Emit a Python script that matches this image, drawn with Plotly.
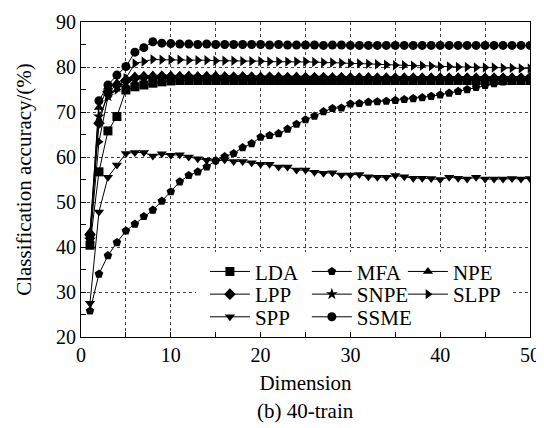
import plotly.graph_objects as go

dims = list(range(1, 51))

LDA = [40.4, 56.7, 65.8, 69.0, 74.9, 75.6, 76.0, 76.4, 76.7, 76.9,
       77.0, 77.0, 77.0, 77.0, 77.0, 77.0, 77.0, 77.0, 77.0, 77.0,
       77.0, 77.0, 77.0, 77.0, 77.0, 77.0, 77.0, 77.0, 77.0, 77.0,
       77.0, 77.0, 77.0, 77.0, 77.0, 77.0, 77.0, 77.0, 77.0, 77.0,
       77.0, 77.0, 77.0, 77.0, 77.0, 77.0, 77.0, 77.0, 77.0, 77.0]
MFA = [25.8, 34.0, 38.1, 41.0, 43.6, 45.1, 46.8, 48.2, 50.2, 52.3,
       54.5, 55.9, 56.7, 57.8, 59.2, 60.1, 60.8, 62.1, 63.0, 64.4,
       64.8, 65.2, 66.2, 67.3, 68.3, 69.1, 70.1, 70.8, 70.9, 71.8,
       71.9, 72.2, 72.3, 72.4, 72.6, 72.8, 73.0, 73.2, 73.5, 73.8,
       74.2, 74.6, 75.0, 75.5, 75.9, 76.3, 76.7, 77.1, 77.4, 77.7]
NPE = [43.4, 71.0, 75.5, 76.5, 77.5, 78.0, 78.1, 78.2, 78.2, 78.2,
       78.1, 78.2, 78.1, 78.1, 78.2, 78.1, 78.0, 78.1, 78.0, 78.0,
       78.0, 78.0, 77.9, 78.0, 77.9, 77.9, 77.9, 77.9, 77.9, 77.9,
       77.8, 77.9, 77.8, 77.8, 77.8, 77.8, 77.8, 77.8, 77.8, 77.8,
       77.8, 77.8, 77.8, 77.8, 77.8, 77.8, 77.8, 77.8, 77.8, 77.8]
LPP = [42.7, 67.5, 74.5, 76.0, 77.0, 77.6, 77.8, 77.8, 77.9, 77.8,
       77.8, 77.8, 77.7, 77.8, 77.7, 77.7, 77.7, 77.7, 77.7, 77.6,
       77.7, 77.6, 77.6, 77.6, 77.6, 77.6, 77.6, 77.5, 77.6, 77.5,
       77.5, 77.5, 77.5, 77.5, 77.5, 77.5, 77.5, 77.5, 77.5, 77.5,
       77.5, 77.5, 77.5, 77.5, 77.5, 77.5, 77.5, 77.5, 77.5, 77.6]
SNPE = [41.6, 69.0, 73.5, 75.5, 76.5, 77.2, 77.4, 77.5, 77.5, 77.4,
        77.4, 77.4, 77.4, 77.3, 77.3, 77.3, 77.3, 77.3, 77.2, 77.2,
        77.2, 77.2, 77.2, 77.2, 77.2, 77.1, 77.1, 77.1, 77.1, 77.1,
        77.1, 77.1, 77.1, 77.1, 77.1, 77.1, 77.1, 77.1, 77.1, 77.1,
        77.1, 77.1, 77.1, 77.1, 77.1, 77.1, 77.1, 77.1, 77.1, 77.2]
SLPP = [41.0, 63.4, 73.4, 75.0, 77.5, 80.8, 81.2, 81.7, 81.6, 81.6,
        81.6, 81.5, 81.5, 81.5, 81.4, 81.4, 81.4, 81.3, 81.3, 81.3,
        81.2, 81.2, 81.2, 81.2, 81.2, 81.1, 81.0, 81.0, 80.9, 80.8,
        80.8, 80.7, 80.6, 80.5, 80.4, 80.4, 80.3, 80.3, 80.2, 80.1,
        80.1, 80.0, 80.0, 79.9, 79.9, 79.9, 79.8, 79.8, 79.7, 79.7]
SPP = [27.5, 47.8, 55.5, 58.2, 60.8, 61.0, 61.0, 60.2, 60.7, 60.4,
       60.5, 60.0, 59.6, 59.3, 59.0, 59.4, 59.0, 59.0, 58.7, 58.4,
       58.4, 57.8, 57.8, 57.1, 57.1, 56.6, 56.4, 56.5, 56.0, 56.0,
       56.1, 55.6, 55.5, 55.5, 55.9, 55.6, 55.3, 55.3, 55.2, 55.0,
       55.5, 55.3, 55.1, 55.5, 55.1, 55.1, 55.1, 55.2, 55.1, 55.2]
SSME = [42.0, 72.5, 76.0, 78.2, 80.1, 83.3, 84.3, 85.6, 85.3, 85.2,
        85.1, 85.1, 85.0, 85.1, 85.0, 85.0, 85.0, 85.0, 85.0, 85.0,
        84.9, 85.0, 84.9, 84.9, 84.9, 84.9, 84.8, 84.9, 84.9, 84.8,
        84.8, 84.8, 84.8, 84.8, 84.8, 84.8, 84.8, 84.8, 84.8, 84.8,
        84.8, 84.8, 84.8, 84.8, 84.8, 84.8, 84.8, 84.8, 84.8, 84.8]

# legend grid: 3 columns x 3 rows (row-major order as in the figure)
LEG_COL_X = [0.276, 0.503, 0.717]
LEG_ROW_Y = [0.207, 0.135, 0.063]

# (name, values, marker symbol, column, row)
series = [
    ("LDA", LDA, "square", 0, 0),
    ("MFA", MFA, "pentagon", 1, 0),
    ("NPE", NPE, "triangle-up", 2, 0),
    ("LPP", LPP, "diamond", 0, 1),
    ("SNPE", SNPE, "star", 1, 1),
    ("SLPP", SLPP, "triangle-right", 2, 1),
    ("SPP", SPP, "triangle-down", 0, 2),
    ("SSME", SSME, "circle", 1, 2),
]

FONT = "Liberation Serif"
fig = go.Figure()
legends = {}
for i, (name, vals, sym, col, row) in enumerate(series):
    key = "legend" if i == 0 else f"legend{i + 1}"
    fig.add_trace(go.Scatter(
        x=dims, y=vals, name=name, mode="lines+markers",
        line=dict(color="black", width=1),
        marker=dict(symbol=sym, size=9, color="black"),
        legend=key, showlegend=True,
    ))
    legends[key] = dict(orientation="v", x=LEG_COL_X[col], y=LEG_ROW_Y[row],
                        xanchor="left", yanchor="middle",
                        bgcolor="rgba(0,0,0,0)", borderwidth=0,
                        font=dict(family=FONT, size=21, color="black"),
                        itemwidth=40)

axis_common = dict(
    showline=True, linecolor="black", linewidth=1, mirror=True,
    ticks="inside", ticklen=5, tickcolor="black",
    tickfont=dict(family=FONT, size=20, color="black"),
    zeroline=False, automargin=False,
    gridcolor="#444", griddash="dot", gridwidth=1,
)
fig.update_xaxes(range=[0, 50], dtick=10, tick0=0, showgrid=True,
                 minor=dict(dtick=5, ticks="inside", ticklen=5, tickcolor="black",
                            showgrid=True, gridcolor="#444", griddash="dot", gridwidth=1),
                 title=dict(text="Dimension", font=dict(family=FONT, size=21, color="black"), standoff=10),
                 **axis_common)
fig.update_yaxes(range=[20, 90], dtick=10, tick0=20, showgrid=True,
                 minor=dict(dtick=5, ticks="inside", ticklen=5, tickcolor="black", showgrid=False),
                 title=dict(text="Classification accuracy/(%)", font=dict(family=FONT, size=21, color="black"), standoff=18),
                 **axis_common)

fig.update_layout(
    width=536, height=420,
    margin=dict(l=73, r=14, t=14, b=91, autoexpand=False),
    showlegend=True,
    plot_bgcolor="white", paper_bgcolor="white",
    font=dict(family=FONT, color="black"),
    shapes=[dict(type="rect", xref="paper", yref="paper",
                 x0=0.256, x1=0.958, y0=0.02, y1=0.27,
                 fillcolor="white", line=dict(width=0), layer="above")],
    annotations=[dict(text="(b) 40-train", x=0.5, y=-0.19, xref="paper", yref="paper",
                      showarrow=False, yanchor="top",
                      font=dict(family=FONT, size=21, color="black"))],
    **legends,
)

fig.write_html("out.html")
